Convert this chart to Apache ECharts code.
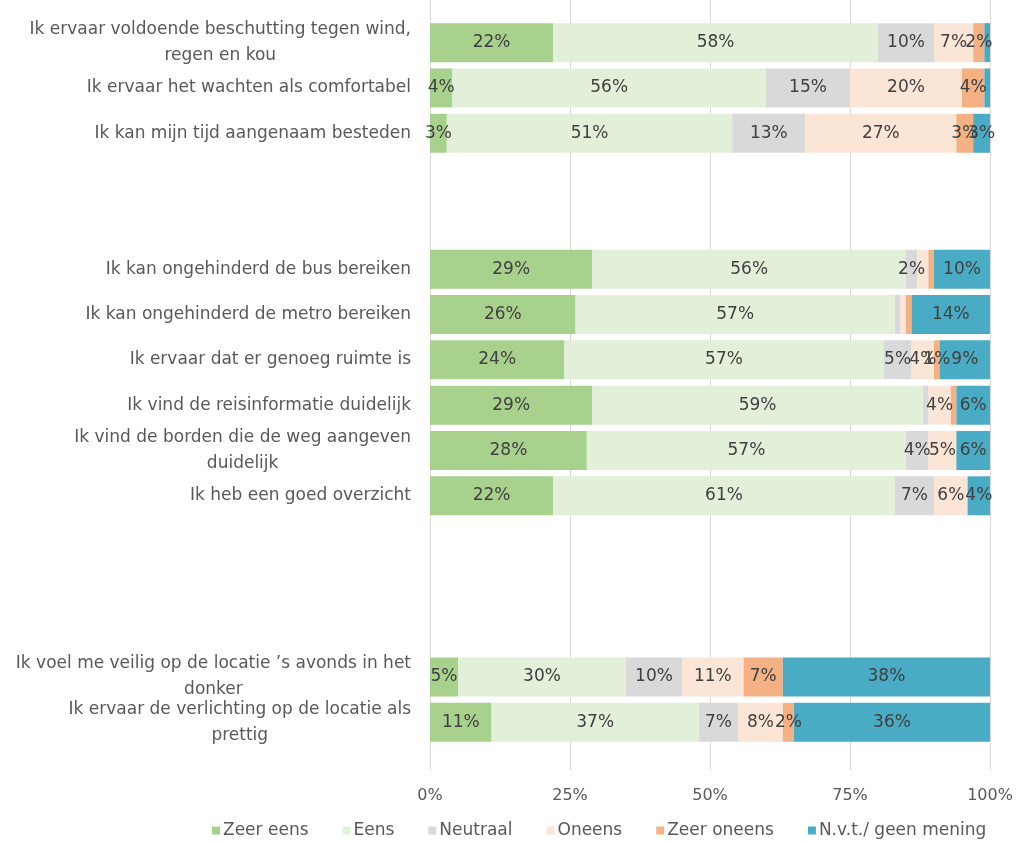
<!DOCTYPE html>
<html>
<head>
<meta charset="utf-8">
<script src="https://cdn.jsdelivr.net/npm/echarts@6/dist/echarts.min.js"></script>
<style>
  html, body { margin: 0; padding: 0; background: #fff; }
  #chart { width: 1016px; height: 841px; }
</style>
</head>
<body>
<div id="chart"></div>
<script>
// categories, top to bottom; empty slots are the gaps between groups
const categories = [
    "Ik ervaar voldoende beschutting tegen wind,\nregen en kou",
    "Ik ervaar het wachten als comfortabel",
    "Ik kan mijn tijd aangenaam besteden",
    " ",
    "  ",
    "Ik kan ongehinderd de bus bereiken",
    "Ik kan ongehinderd de metro bereiken",
    "Ik ervaar dat er genoeg ruimte is",
    "Ik vind de reisinformatie duidelijk",
    "Ik vind de borden die de weg aangeven\nduidelijk",
    "Ik heb een goed overzicht",
    "   ",
    "    ",
    "     ",
    "Ik voel me veilig op de locatie \u2019s avonds in het\ndonker",
    "Ik ervaar de verlichting op de locatie als\nprettig",
];

const seriesNames = ["Zeer eens", "Eens", "Neutraal", "Oneens", "Zeer oneens", "N.v.t./ geen mening"];

const zeerEens   = [22, 4, 3, null, null, 29, 26, 24, 29, 28, 22, null, null, null, 5, 11];
const eens       = [58, 56, 51, null, null, 56, 57, 57, 59, 57, 61, null, null, null, 30, 37];
const neutraal   = [10, 15, 13, null, null, 2, 1, 5, 1, 4, 7, null, null, null, 10, 7];
const oneens     = [7, 20, 27, null, null, 2, 1, 4, 4, 5, 6, null, null, null, 11, 8];
const zeerOneens = [2, 4, 3, null, null, 1, 1, 1, 1, 0, 0, null, null, null, 7, 2];
const nvt        = [1, 1, 3, null, null, 10, 14, 9, 6, 6, 4, null, null, null, 38, 36];

// data labels that are not shown in the original ([series, row])
const hiddenLabels = [[5, 0], [5, 1], [3, 5], [4, 5], [2, 6], [3, 6], [4, 6], [2, 8], [4, 8]];

const xTicks = [0, 25, 50, 75, 100];

const colors = ["#a9d18e", "#e2efd9", "#d9d9d9", "#fbe5d6", "#f4b183", "#4aabc5"];

const FONT = "DejaVu Sans";

const chart = echarts.init(document.getElementById("chart"));

const values = [zeerEens, eens, neutraal, oneens, zeerOneens, nvt];

const series = values.map((arr, si) => ({
    name: seriesNames[si],
    type: "bar",
    stack: "total",
    xAxisIndex: 0,
    yAxisIndex: 0,
    barCategoryGap: "14%",
    itemStyle: { color: colors[si] },
    label: {
        show: true,
        position: "inside",
        color: "#404040",
        fontSize: 17,
        fontFamily: FONT,
        formatter: (p) => (p.value ? p.value + "%" : ""),
    },
    data: arr.map((v, ri) => {
        const hide = hiddenLabels.some((h) => h[0] === si && h[1] === ri) || !v;
        return hide ? { value: v, label: { show: false } } : v;
    }),
}));

const options = {
    animation: false,
    color: colors,
    grid: [
        { left: 430, right: 26, top: 20, height: 725 },
        // background grid only for the longer gridlines and tick labels
        { left: 430, right: 26, top: 0, bottom: 71 },
    ],
    xAxis: [
        { gridIndex: 0, type: "value", min: 0, max: 100, show: false },
        {
            gridIndex: 1,
            type: "value",
            min: 0,
            max: 100,
            interval: 25,
            axisLine: { show: false },
            axisTick: { show: false },
            splitLine: { show: true, lineStyle: { color: "#d9d9d9", width: 1 } },
            axisLabel: {
                margin: 18,
                color: "#595959",
                fontSize: 16,
                fontFamily: FONT,
                formatter: (v) => (xTicks.includes(v) ? v + "%" : ""),
            },
        },
    ],
    yAxis: [
        {
            gridIndex: 0,
            type: "category",
            inverse: true,
            data: categories,
            axisLine: { show: false },
            axisTick: { show: false },
            axisLabel: {
                interval: 0,
                margin: 19,
                color: "#595959",
                fontSize: 17,
                fontFamily: FONT,
                lineHeight: 26,
                formatter: (v) =>
                    v.trim() === ""
                        ? ""
                        : v.split("\n").map((line) => "{c|" + line + "}").join("\n"),
                rich: {
                    c: {
                        align: "center",
                        color: "#595959",
                        fontSize: 17,
                        fontFamily: FONT,
                        lineHeight: 26,
                    },
                },
            },
        },
        { gridIndex: 1, type: "value", show: false },
    ],
    legend: {
        data: seriesNames,
        left: 207,
        top: 817,
        itemWidth: 8,
        itemHeight: 8,
        itemGap: 34,
        icon: "rect",
        textStyle: { color: "#595959", fontSize: 17, fontFamily: FONT, padding: [0, 0, 0, -2] },
    },
    series: series,
};

chart.setOption(options);
</script>
</body>
</html>
